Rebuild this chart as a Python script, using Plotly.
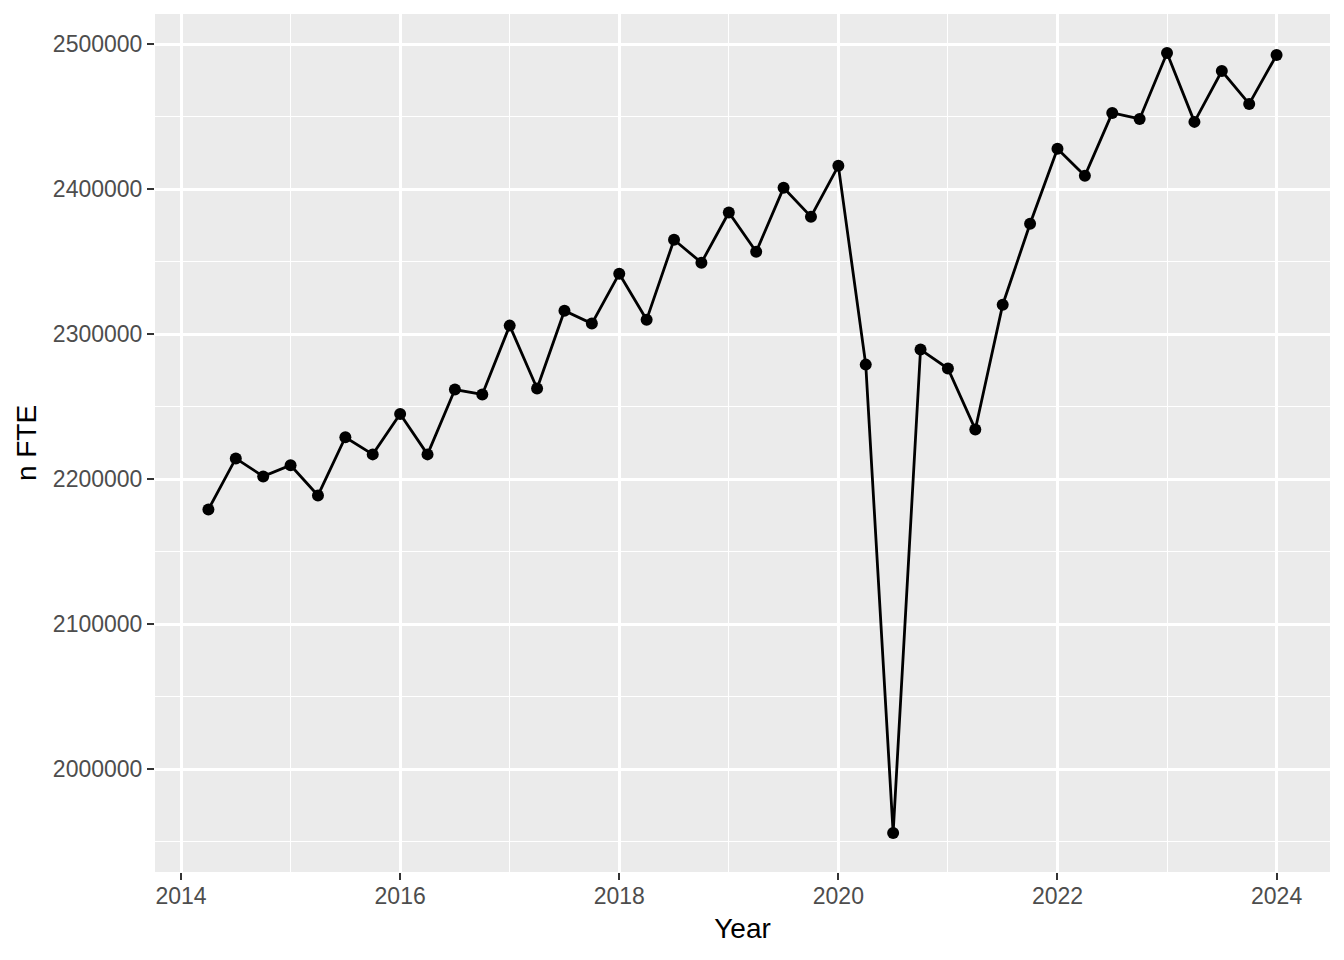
import plotly.graph_objects as go

years = [2014.25, 2014.5, 2014.75, 2015.0, 2015.25, 2015.5, 2015.75, 2016.0,
         2016.25, 2016.5, 2016.75, 2017.0, 2017.25, 2017.5, 2017.75, 2018.0,
         2018.25, 2018.5, 2018.75, 2019.0, 2019.25, 2019.5, 2019.75, 2020.0,
         2020.25, 2020.5, 2020.75, 2021.0, 2021.25, 2021.5, 2021.75, 2022.0,
         2022.25, 2022.5, 2022.75, 2023.0, 2023.25, 2023.5, 2023.75, 2024.0]
n_fte = [2179000, 2214200, 2201800, 2209500, 2188700, 2228800, 2217000, 2244800,
         2217000, 2261700, 2258300, 2305800, 2262400, 2316100, 2307200, 2341600,
         2309900, 2365000, 2349200, 2383800, 2356700, 2400800, 2380900, 2416000,
         2278900, 1955900, 2289300, 2276200, 2234200, 2320200, 2376000, 2427700,
         2409100, 2452500, 2448300, 2493800, 2446300, 2481400, 2458700, 2492400]

x_ticks = [2014, 2016, 2018, 2020, 2022, 2024]
y_ticks = [2000000, 2100000, 2200000, 2300000, 2400000, 2500000]

font = "Liberation Sans, Arial, sans-serif"

fig = go.Figure(go.Scatter(
    x=years, y=n_fte, mode="lines+markers",
    line=dict(color="black", width=2.8),
    marker=dict(color="black", size=12),
    showlegend=False,
))

xmin, xmax = min(years), max(years)
ymin, ymax = min(n_fte), max(n_fte)
xpad = (xmax - xmin) * 0.05
ypad = (ymax - ymin) * 0.05

axis_common = dict(
    showgrid=True, gridcolor="white", gridwidth=2.6,
    zeroline=False, showline=False,
    ticks="outside", ticklen=7, tickwidth=2, tickcolor="#333333",
    tickfont=dict(family=font, size=23, color="#4D4D4D"),
)

fig.update_layout(
    width=1336, height=952,
    paper_bgcolor="white", plot_bgcolor="#EBEBEB",
    margin=dict(l=147, r=14, t=6, b=88),
    font=dict(family=font),
    xaxis=dict(
        **axis_common,
        range=[xmin - xpad, xmax + xpad],
        tickvals=x_ticks, ticktext=[str(v) for v in x_ticks],
        ticklabelstandoff=-4,
        minor=dict(tickvals=[2015, 2017, 2019, 2021, 2023], showgrid=True,
                   gridcolor="white", gridwidth=1.3),
        title=dict(text="Year", font=dict(family=font, size=28, color="black"), standoff=10),
    ),
    yaxis=dict(
        **axis_common,
        range=[ymin - ypad, ymax + ypad],
        tickvals=y_ticks, ticktext=[str(v) for v in y_ticks],
        minor=dict(tickvals=[1950000, 2050000, 2150000, 2250000, 2350000, 2450000],
                   showgrid=True, gridcolor="white", gridwidth=1.3),
        title=dict(text="n FTE", font=dict(family=font, size=28, color="black"), standoff=8),
    ),
)

fig.write_html("out.html")
